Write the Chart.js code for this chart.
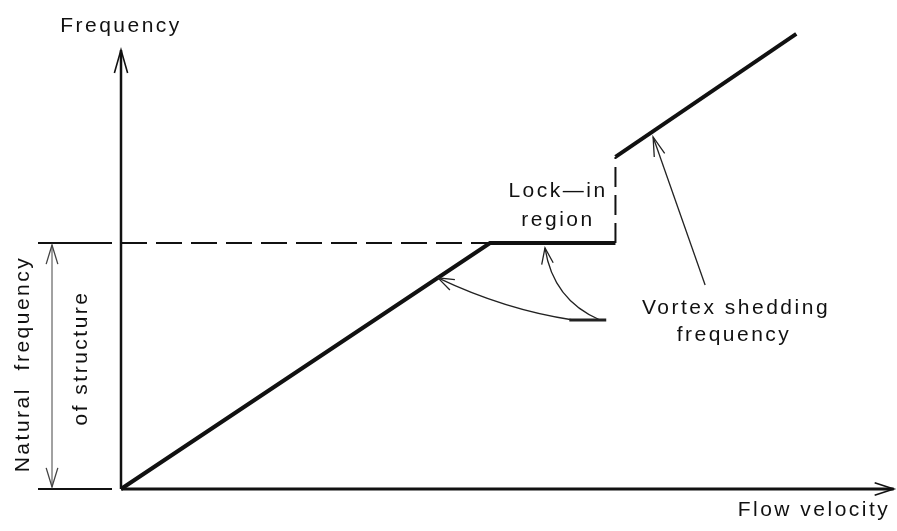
<!DOCTYPE html>
<html>
<head>
<meta charset="utf-8">
<script src="https://cdn.jsdelivr.net/npm/chart.js@4/dist/chart.umd.min.js"></script>
<style>
  html, body { margin: 0; padding: 0; background: #fff; }
  #wrap { width: 897px; height: 531px; }
</style>
</head>
<body>
<div id="wrap"><canvas id="lockinChart" width="897" height="531"></canvas></div>
<script>
// Lock-in sketch: vortex shedding frequency vs flow velocity
const lowerVelocity = [0, 1.0, 1.34];   // Strouhal branch, then lock-in plateau
const lowerFrequency = [0, 1.0, 1.0];
const upperVelocity = [1.34, 1.83];     // after lock-in
const upperFrequency = [1.35, 1.85];
const jumpVelocity = [1.34, 1.34];
const jumpFrequency = [1.0, 1.35];
const naturalFrequency = 1.0;
const axisEnd = [2.094, 1.785];         // x arrow tip, y arrow tip

const INK = '#111';

function pts(xs, ys) {
    return xs.map((v, i) => ({ x: v, y: ys[i] }));
}

function arrowHead(ctx, tx, ty, fx, fy, len, half) {
    const a = Math.atan2(ty - fy, tx - fx);
    ctx.beginPath();
    ctx.moveTo(tx - len * Math.cos(a - half), ty - len * Math.sin(a - half));
    ctx.lineTo(tx, ty);
    ctx.lineTo(tx - len * Math.cos(a + half), ty - len * Math.sin(a + half));
    ctx.stroke();
}

function label(ctx, text, x, y, rot) {
    ctx.save();
    ctx.translate(x, y);
    if (rot) ctx.rotate(rot);
    ctx.fillText(text, 0, 0);
    ctx.restore();
}

const diagramPlugin = {
    id: 'diagram',
    afterDatasetsDraw(chart) {
        const ctx = chart.ctx;
        const sx = chart.scales.x, sy = chart.scales.y;
        const px = v => sx.getPixelForValue(v);
        const py = v => sy.getPixelForValue(v);
        const deg = Math.PI / 180;

        ctx.save();
        ctx.strokeStyle = INK;
        ctx.fillStyle = INK;

        // axis arrowheads
        ctx.lineWidth = 1.6;
        arrowHead(ctx, px(0), py(axisEnd[1]), px(0), py(0), 24, 16 * deg);
        arrowHead(ctx, px(axisEnd[0]), py(0), px(0), py(0), 20, 18 * deg);

        // natural frequency bracket on the left
        const x0 = px(0);
        ctx.lineWidth = 2;
        [naturalFrequency, 0].forEach(f => {
            ctx.beginPath();
            ctx.moveTo(x0 - 83, py(f));
            ctx.lineTo(x0 - 9, py(f));
            ctx.stroke();
        });
        ctx.lineWidth = 1;
        ctx.strokeStyle = '#444';
        ctx.beginPath();
        ctx.moveTo(x0 - 69, py(naturalFrequency) + 2);
        ctx.lineTo(x0 - 69, py(0) - 2);
        ctx.stroke();
        ctx.lineWidth = 1.3;
        arrowHead(ctx, x0 - 69, py(naturalFrequency) + 2, x0 - 69, py(0), 20, 17 * deg);
        arrowHead(ctx, x0 - 69, py(0) - 2, x0 - 69, py(naturalFrequency), 20, 17 * deg);

        // annotation arrows
        ctx.strokeStyle = '#222';
        ctx.lineWidth = 1.3;
        // to the rising branch
        let s = [px(1.225), py(0.687)], c = [px(1.041), py(0.728)], t = [px(0.859), py(0.858)];
        ctx.beginPath();
        ctx.moveTo(s[0], s[1]);
        ctx.quadraticCurveTo(c[0], c[1], t[0], t[1]);
        ctx.stroke();
        arrowHead(ctx, t[0], t[1], c[0], c[1], 17, 20 * deg);
        // to the plateau
        s = [px(1.298), py(0.687)]; c = [px(1.171), py(0.768)]; t = [px(1.149), py(0.98)];
        ctx.beginPath();
        ctx.moveTo(s[0], s[1]);
        ctx.quadraticCurveTo(c[0], c[1], t[0], t[1]);
        ctx.stroke();
        arrowHead(ctx, t[0], t[1], c[0], c[1], 17, 20 * deg);
        // thick tail where both meet
        ctx.lineWidth = 3;
        ctx.beginPath();
        ctx.moveTo(px(1.215), py(0.687));
        ctx.lineTo(px(1.315), py(0.687));
        ctx.stroke();
        // to the upper branch
        ctx.lineWidth = 1.3;
        ctx.beginPath();
        ctx.moveTo(px(1.583), py(0.829));
        ctx.lineTo(px(1.442), py(1.431));
        ctx.stroke();
        arrowHead(ctx, px(1.442), py(1.431), px(1.583), py(0.829), 20, 16 * deg);

        // texts
        ctx.fillStyle = INK;
        ctx.font = '21px "Liberation Sans", Arial, sans-serif';
        ctx.letterSpacing = '2.5px';
        ctx.textAlign = 'center';
        ctx.textBaseline = 'alphabetic';
        label(ctx, 'Frequency', 121, 32);
        label(ctx, 'Flow velocity', 814, 516);
        label(ctx, 'Lock\u2014in', 558, 197);
        label(ctx, 'region', 558, 226);
        label(ctx, 'Vortex shedding', 736, 314);
        label(ctx, 'frequency', 734, 341);
        label(ctx, 'Natural  frequency', 29, 364, -Math.PI / 2);
        label(ctx, 'of structure', 87, 358, -Math.PI / 2);
        ctx.restore();
    }
};

new Chart(document.getElementById('lockinChart'), {
    type: 'scatter',
    data: {
        datasets: [
            { data: pts([0, 0], [0, axisEnd[1]]), borderWidth: 2.5 },
            { data: pts([0, axisEnd[0]], [0, 0]), borderWidth: 3 },
            { data: pts([0, 1.0], [naturalFrequency, naturalFrequency]), borderWidth: 2, borderDash: [26, 9] },
            { data: pts(jumpVelocity, jumpFrequency), borderWidth: 2, borderDash: [20, 8] },
            { data: pts(lowerVelocity, lowerFrequency), borderWidth: 4 },
            { data: pts(upperVelocity, upperFrequency), borderWidth: 4 }
        ].map(d => Object.assign({
            showLine: true,
            borderColor: INK,
            pointRadius: 0,
            pointHoverRadius: 0,
            tension: 0,
            borderJoinStyle: 'miter',
            clip: false
        }, d))
    },
    options: {
        responsive: false,
        animation: false,
        devicePixelRatio: 1,
        layout: { padding: { left: 121, right: 1.1, top: 21.6, bottom: 42 } },
        plugins: { legend: { display: false }, tooltip: { enabled: false } },
        events: [],
        scales: {
            x: { type: 'linear', min: 0, max: 2.1, display: false },
            y: { type: 'linear', min: 0, max: 1.9, display: false }
        }
    },
    plugins: [diagramPlugin]
});
</script>
</body>
</html>
